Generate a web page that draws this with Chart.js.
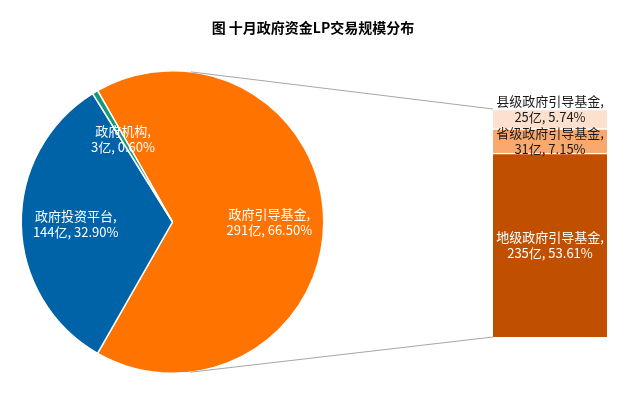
<!DOCTYPE html>
<html>
<head>
<meta charset="utf-8">
<script src="https://cdn.jsdelivr.net/npm/chart.js@4.4.0/dist/chart.umd.min.js"></script>
<style>
  html, body { margin: 0; padding: 0; background: #fff; }
  #wrap { position: relative; width: 630px; height: 398px; }
  #wrap canvas { position: absolute; left: 0; top: 0; }
  #title {
    position: absolute; left: 0; top: 17px; width: 626px;
    text-align: center; line-height: 16px;
    font: bold 14px "Noto Sans CJK SC", sans-serif; color: #000;
  }
</style>
</head>
<body>
<div id="wrap">
  <canvas id="pie" width="630" height="398"></canvas>
  <canvas id="bar" width="630" height="398"></canvas>
  <div id="title">图 十月政府资金LP交易规模分布</div>
</div>
<script>
// pie: main categories
let pieLabels = ["政府引导基金", "政府投资平台", "政府机构"];
let pieAmounts = [291, 144, 3];          // 亿
let pieShares = [66.50, 32.90, 0.60];    // %
let pieColors = ["#FF7300", "#0063A8", "#14977A"];

// bar: breakdown of 政府引导基金 (bottom to top)
let barLabels = ["地级政府引导基金", "省级政府引导基金", "县级政府引导基金"];
let barAmounts = [235, 31, 25];
let barShares = [53.61, 7.15, 5.74];
let barColors = ["#C05000", "#F9A86E", "#FDE1CE"];
let barTextColors = ["#ffffff", "#1a1a1a", "#1a1a1a"];

let labelFont = "13px 'Noto Sans CJK SC', sans-serif";
let lineGap = 8;

// labels inside pie slices
let pieLabelPlugin = {
  id: "pieLabels",
  afterDatasetsDraw(chart) {
    let ctx = chart.ctx;
    let meta = chart.getDatasetMeta(0);
    ctx.save();
    ctx.font = labelFont;
    ctx.fillStyle = "#fff";
    ctx.textAlign = "center";
    ctx.textBaseline = "middle";
    meta.data.forEach(function (arc, i) {
      let p = arc.getProps(["x", "y", "startAngle", "endAngle", "outerRadius"]);
      let mid = (p.startAngle + p.endAngle) / 2;
      let r = p.outerRadius * 0.64;
      let x = p.x + Math.cos(mid) * r;
      let y = p.y + Math.sin(mid) * r;
      ctx.fillText(pieLabels[i] + ",", x, y - lineGap);
      ctx.fillText(pieAmounts[i] + "亿, " + pieShares[i].toFixed(2) + "%", x, y + lineGap);
    });
    ctx.restore();
  }
};

let pieChart = new Chart(document.getElementById("pie"), {
  type: "pie",
  data: {
    labels: pieLabels,
    datasets: [{
      data: pieShares,
      backgroundColor: pieColors,
      borderColor: "#fff",
      borderWidth: 1.5
    }]
  },
  options: {
    responsive: false,
    animation: false,
    // first slice centred on the right side
    rotation: 90 - pieShares[0] * 1.8,
    layout: { padding: { left: 20, right: 305, top: 70, bottom: 24 } },
    plugins: { legend: { display: false }, tooltip: { enabled: false } }
  },
  plugins: [pieLabelPlugin]
});

// labels inside stacked bar, pushed up if they would overlap
let barLabelPlugin = {
  id: "barLabels",
  afterDatasetsDraw(chart) {
    let ctx = chart.ctx;
    ctx.save();
    ctx.font = labelFont;
    ctx.textAlign = "center";
    ctx.textBaseline = "middle";
    let prevTop = Infinity;
    barLabels.forEach(function (name, i) {
      let el = chart.getDatasetMeta(i).data[0];
      let p = el.getProps(["x", "y", "base"]);
      let cy = (p.y + p.base) / 2;
      if (cy + 2 * lineGap > prevTop) cy = prevTop - 2 * lineGap;
      prevTop = cy - 2 * lineGap;
      ctx.fillStyle = barTextColors[i];
      ctx.fillText(name + ",", p.x, cy - lineGap);
      ctx.fillText(barAmounts[i] + "亿, " + barShares[i].toFixed(2) + "%", p.x, cy + lineGap);
    });
    ctx.restore();
  }
};

// tangent point on circle seen from an outside point
function tangentPoint(cx, cy, r, px, py, side) {
  let d = Math.hypot(px - cx, py - cy);
  let a = Math.atan2(py - cy, px - cx) + side * Math.acos(r / d);
  return { x: cx + Math.cos(a) * r, y: cy + Math.sin(a) * r };
}

// grey lines joining pie and bar
let seriesLinePlugin = {
  id: "seriesLines",
  afterDraw(chart) {
    let arc = pieChart.getDatasetMeta(0).data[0].getProps(["x", "y", "outerRadius"]);
    let topEl = chart.getDatasetMeta(barLabels.length - 1).data[0].getProps(["x", "y", "width"]);
    let botEl = chart.getDatasetMeta(0).data[0].getProps(["x", "base", "width"]);
    let topCorner = { x: topEl.x - topEl.width / 2, y: topEl.y };
    let botCorner = { x: botEl.x - botEl.width / 2, y: botEl.base };
    let t1 = tangentPoint(arc.x, arc.y, arc.outerRadius, topCorner.x, topCorner.y, -1);
    let t2 = tangentPoint(arc.x, arc.y, arc.outerRadius, botCorner.x, botCorner.y, 1);
    let ctx = chart.ctx;
    ctx.save();
    ctx.strokeStyle = "#A6A6A6";
    ctx.lineWidth = 1;
    ctx.beginPath();
    ctx.moveTo(t1.x, t1.y);
    ctx.lineTo(topCorner.x, topCorner.y);
    ctx.moveTo(t2.x, t2.y);
    ctx.lineTo(botCorner.x, botCorner.y);
    ctx.stroke();
    ctx.restore();
  }
};

let barTotal = barShares.reduce(function (a, b) { return a + b; }, 0);

let barChart = new Chart(document.getElementById("bar"), {
  type: "bar",
  data: {
    labels: ["政府引导基金"],
    datasets: barLabels.map(function (name, i) {
      return {
        label: name,
        data: [barShares[i]],
        backgroundColor: barColors[i],
        borderColor: "#fff",
        borderWidth: { top: 1.5, bottom: 0, left: 0, right: 0 },
        borderSkipped: false,
        barPercentage: 1,
        categoryPercentage: 1
      };
    })
  },
  options: {
    responsive: false,
    animation: false,
    layout: { padding: { left: 493, right: 23, top: 109, bottom: 61 } },
    scales: {
      x: { display: false, stacked: true },
      y: { display: false, stacked: true, min: 0, max: barTotal }
    },
    plugins: { legend: { display: false }, tooltip: { enabled: false } }
  },
  plugins: [barLabelPlugin, seriesLinePlugin]
});
</script>
</body>
</html>
